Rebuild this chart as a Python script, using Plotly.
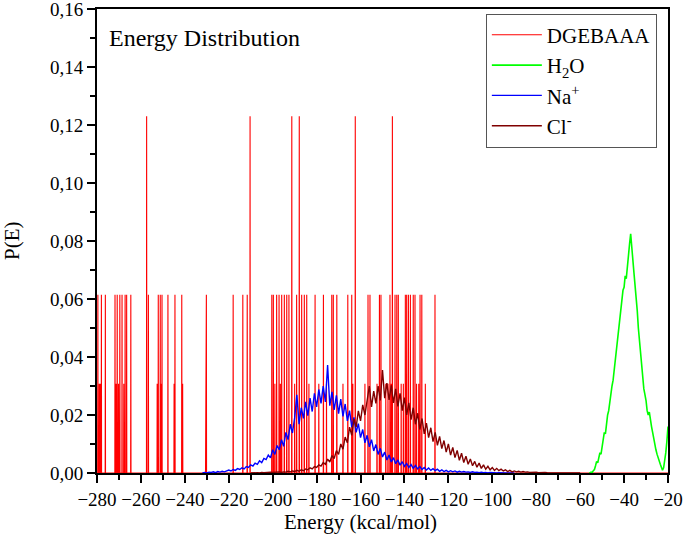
import numpy as np
import plotly.graph_objects as go

# ---------------- DATA ----------------
# DGEBAAA: sparse histogram spikes (energy, probability)
dgeba_energy = [
    -279.6, -278.0, -276.2, -271.8, -270.8, -269.6, -268.6, -267.2, -266.5, -264.6,
    -256.6, -252.1, -251.2, -250.4, -247.7, -244.5, -241.4, -230.2, -218.0, -213.6,
    -211.6, -200.4, -199.7, -198.2, -197.1, -195.9, -194.7, -193.6, -192.6, -189.1,
    -186.8, -185.6, -184.5, -180.7, -176.9, -173.1, -172.4, -170.8, -165.8, -164.0,
    -156.6, -155.7, -151.4, -150.7, -146.6, -144.3, -143.5, -142.8, -139.6, -139.0,
    -138.2, -137.3, -136.0, -135.2, -132.9, -132.1, -126.1,
    -257.4, -210.3, -191.3, -187.9, -162.4, -145.5,
    -279.0, -278.5, -271.3, -270.2, -267.8, -252.6, -250.8, -244.9, -241.0, -230.5,
    -199.0, -196.5, -190.0, -183.5, -179.0, -175.5, -168.0, -163.5, -158.0, -152.5,
    -148.5, -147.5, -146.0, -141.5, -140.5, -134.5, -133.5, -130.5,
]
dgeba_prob = [0.0615] * 57 + [0.123] * 6 + [0.0308] * 28

# Na+ : probability per 1 kcal/mol bin, starting at -232
na_start = -232
na_prob = [
    0.0000, 0.0002, 0.0000, 0.0003, 0.0002, 0.0004, 0.0001, 0.0005, 0.0003, 0.0006,
    0.0004, 0.0008, 0.0010, 0.0007, 0.0012, 0.0009, 0.0015, 0.0012, 0.0018, 0.0014,
    0.0022, 0.0019, 0.0028, 0.0024, 0.0034, 0.0030, 0.0042, 0.0036, 0.0050, 0.0046,
    0.0062, 0.0052, 0.0080, 0.0064, 0.0095, 0.0080, 0.0115, 0.0092, 0.0140, 0.0115,
    0.0168, 0.0138, 0.0190, 0.0270, 0.0168, 0.0225, 0.0188, 0.0245, 0.0198, 0.0258,
    0.0212, 0.0275, 0.0228, 0.0288, 0.0240, 0.0300, 0.0245, 0.0372, 0.0232, 0.0280,
    0.0218, 0.0268, 0.0205, 0.0255, 0.0195, 0.0238, 0.0180, 0.0215, 0.0158, 0.0192,
    0.0140, 0.0170, 0.0122, 0.0150, 0.0104, 0.0130, 0.0090, 0.0115, 0.0076, 0.0098,
    0.0064, 0.0085, 0.0055, 0.0072, 0.0045, 0.0062, 0.0038, 0.0053, 0.0032, 0.0045,
    0.0027, 0.0039, 0.0023, 0.0033, 0.0019, 0.0029, 0.0016, 0.0026, 0.0014, 0.0022,
    0.0012, 0.0019, 0.0010, 0.0017, 0.0009, 0.0015, 0.0008, 0.0013, 0.0006, 0.0011,
    0.0005, 0.0009, 0.0004, 0.0008, 0.0004, 0.0007, 0.0003, 0.0006, 0.0003, 0.0005,
    0.0003, 0.0004, 0.0002, 0.0004, 0.0002, 0.0003, 0.0001, 0.0003, 0.0001, 0.0002,
    0.0000, 0.0002, 0.0001, 0.0001, 0.0000, 0.0001, 0.0000, 0.0001, 0.0000, 0.0000,
    0.0001, 0.0000, 0.0000,
]

# Cl- : probability per 1 kcal/mol bin, starting at -210
cl_start = -210
cl_prob = [
    0.0000, 0.0001, 0.0000, 0.0001, 0.0000, 0.0002, 0.0001, 0.0002, 0.0001, 0.0003,
    0.0002, 0.0003, 0.0002, 0.0004, 0.0002, 0.0004, 0.0003, 0.0006, 0.0004, 0.0007,
    0.0005, 0.0009, 0.0006, 0.0011, 0.0008, 0.0014, 0.0011, 0.0018, 0.0014, 0.0022,
    0.0019, 0.0028, 0.0024, 0.0036, 0.0030, 0.0048, 0.0038, 0.0060, 0.0050, 0.0077,
    0.0064, 0.0100, 0.0082, 0.0124, 0.0104, 0.0158, 0.0130, 0.0186, 0.0158, 0.0214,
    0.0180, 0.0235, 0.0200, 0.0260, 0.0300, 0.0228, 0.0282, 0.0240, 0.0300, 0.0250,
    0.0355, 0.0258, 0.0310, 0.0252, 0.0302, 0.0242, 0.0290, 0.0230, 0.0275, 0.0215,
    0.0260, 0.0200, 0.0242, 0.0184, 0.0225, 0.0168, 0.0206, 0.0150, 0.0188, 0.0135,
    0.0172, 0.0122, 0.0156, 0.0108, 0.0140, 0.0095, 0.0126, 0.0084, 0.0112, 0.0072,
    0.0100, 0.0062, 0.0088, 0.0053, 0.0078, 0.0044, 0.0068, 0.0036, 0.0058, 0.0030,
    0.0048, 0.0025, 0.0040, 0.0020, 0.0034, 0.0016, 0.0028, 0.0013, 0.0023, 0.0011,
    0.0019, 0.0009, 0.0016, 0.0008, 0.0013, 0.0007, 0.0011, 0.0005, 0.0009, 0.0004,
    0.0007, 0.0004, 0.0006, 0.0003, 0.0005, 0.0003, 0.0004, 0.0002, 0.0003, 0.0002,
    0.0003, 0.0001, 0.0002, 0.0001, 0.0002, 0.0001, 0.0001, 0.0000, 0.0001, 0.0000,
    0.0001, 0.0000, 0.0001, 0.0000, 0.0000, 0.0001, 0.0000, 0.0000, 0.0000, 0.0001,
    0.0000,
]

# H2O : probability per 0.5 kcal/mol bin, starting at -56
h2o_start = -56
h2o_prob = [
    0.0000, 0.0000, 0.0003, 0.0002, 0.0008, 0.0012, 0.0025, 0.0040, 0.0035, 0.0055,
    0.0070, 0.0065, 0.0095, 0.0120, 0.0140, 0.0135, 0.0175, 0.0200, 0.0215, 0.0250,
    0.0265, 0.0300, 0.0320, 0.0355, 0.0390, 0.0420, 0.0445, 0.0490, 0.0530, 0.0560,
    0.0600, 0.0630, 0.0640, 0.0680, 0.0670, 0.0720, 0.0745, 0.0790, 0.0825, 0.0760,
    0.0735, 0.0690, 0.0650, 0.0610, 0.0560, 0.0500, 0.0455, 0.0400, 0.0360, 0.0320,
    0.0290, 0.0270, 0.0250, 0.0215, 0.0200, 0.0210, 0.0175, 0.0160, 0.0140, 0.0115,
    0.0100, 0.0080, 0.0065, 0.0050, 0.0038, 0.0030, 0.0020, 0.0010, 0.0018, 0.0040,
    0.0070, 0.0110, 0.0160,
]

x_tick_values = list(range(-280, -19, 20))
y_tick_values = [0.00, 0.02, 0.04, 0.06, 0.08, 0.10, 0.12, 0.14, 0.16]

# ---------------- BUILD ----------------
order = np.argsort(dgeba_energy)
hw = 0.08
red_x, red_y = [-280.0], [0.0]
for i in order:
    e, p = dgeba_energy[i], dgeba_prob[i]
    red_x += [e - hw, e, e + hw]
    red_y += [0.0, p, 0.0]
red_x.append(-20.0)
red_y.append(0.0)

na_x = na_start + np.arange(len(na_prob)) * 1.0
cl_x = cl_start + np.arange(len(cl_prob)) * 1.0
h2o_x = h2o_start + np.arange(len(h2o_prob)) * 0.5

fig = go.Figure()
fig.add_trace(go.Scatter(x=red_x, y=red_y, mode="lines", name="DGEBAAA",
                         line=dict(color="#FF0000", width=1.1)))
fig.add_trace(go.Scatter(x=h2o_x, y=h2o_prob, mode="lines", name="H<sub>2</sub>O",
                         line=dict(color="#00FF00", width=1.6)))
fig.add_trace(go.Scatter(x=na_x, y=na_prob, mode="lines", name="Na<sup>+</sup>",
                         line=dict(color="#0000FF", width=1.4)))
fig.add_trace(go.Scatter(x=cl_x, y=cl_prob, mode="lines", name="Cl<sup>-</sup>",
                         line=dict(color="#800000", width=1.4)))

font_family = "Liberation Serif"
axis_common = dict(
    showline=True, linecolor="black", linewidth=2, mirror=True,
    ticks="outside", ticklen=8, tickwidth=1.5, tickcolor="black",
    showgrid=False, zeroline=False, automargin=False,
    ticklabeloverflow="allow",
    tickfont=dict(family=font_family, size=19, color="black"),
)

fig.update_layout(
    width=685, height=549,
    margin=dict(l=97, r=17, t=9, b=76),
    paper_bgcolor="white", plot_bgcolor="white",
    separators=",.",
    font=dict(family=font_family, color="black"),
    showlegend=True,
    legend=dict(
        x=0.681, y=0.99, xanchor="left", yanchor="top",
        bordercolor="#555555", borderwidth=1, bgcolor="white",
        font=dict(family=font_family, size=21, color="black"),
        tracegroupgap=2, itemwidth=50,
    ),
    xaxis=dict(range=[-280, -20], tickvals=x_tick_values,
               minor=dict(dtick=10, ticks="outside", ticklen=5, tickcolor="black", tickwidth=1.5),
               **axis_common),
    yaxis=dict(range=[0, 0.16], tickvals=y_tick_values, tickformat=".2f",
               minor=dict(dtick=0.01, ticks="outside", ticklen=5, tickcolor="black", tickwidth=1.5),
               **axis_common),
    annotations=[
        dict(text="Energy Distribution", xref="paper", yref="paper", x=0.0175, y=0.9375,
             xanchor="left", yanchor="middle", showarrow=False,
             font=dict(family=font_family, size=24, color="black")),
        dict(text="Energy (kcal/mol)", xref="paper", yref="paper", x=0.462, y=-0.106,
             xanchor="center", yanchor="middle", showarrow=False,
             font=dict(family=font_family, size=21, color="black")),
        dict(text="P(E)", xref="paper", yref="paper", x=-0.149, y=0.502,
             xanchor="center", yanchor="middle", showarrow=False, textangle=-90,
             font=dict(family=font_family, size=21, color="black")),
    ],
)

fig.write_html("out.html", config={"displayModeBar": False},
               post_script="document.body.style.margin='0';")
